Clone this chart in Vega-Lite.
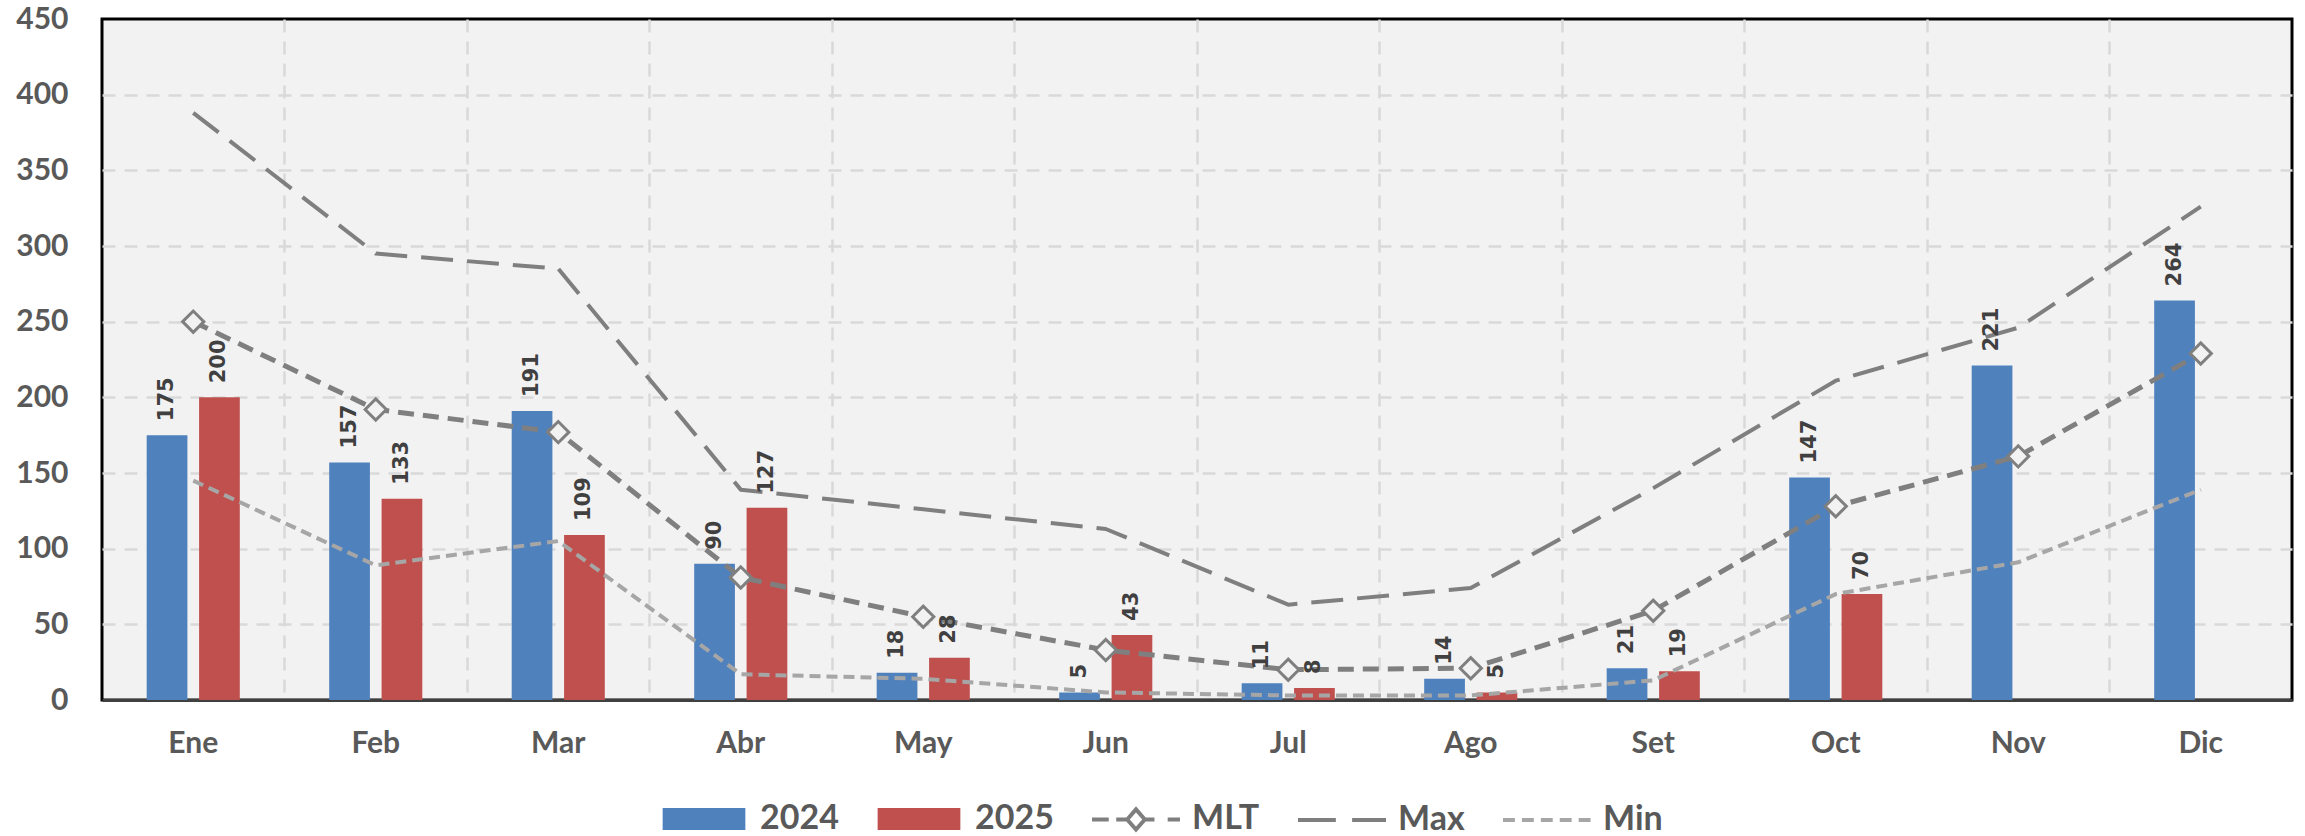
{
  "$schema": "https://vega.github.io/schema/vega-lite/v6.json",
  "width": 2190,
  "height": 681,
  "autosize": {"type": "none"},
  "padding": {"left": 102, "top": 19, "right": 13, "bottom": 136},
  "background": "#FFFFFF",
  "datasets": {
    "bars": [
      {"m": "Ene", "s": "2024", "v": 175}, {"m": "Ene", "s": "2025", "v": 200},
      {"m": "Feb", "s": "2024", "v": 157}, {"m": "Feb", "s": "2025", "v": 133},
      {"m": "Mar", "s": "2024", "v": 191}, {"m": "Mar", "s": "2025", "v": 109},
      {"m": "Abr", "s": "2024", "v": 90}, {"m": "Abr", "s": "2025", "v": 127},
      {"m": "May", "s": "2024", "v": 18}, {"m": "May", "s": "2025", "v": 28},
      {"m": "Jun", "s": "2024", "v": 5}, {"m": "Jun", "s": "2025", "v": 43},
      {"m": "Jul", "s": "2024", "v": 11}, {"m": "Jul", "s": "2025", "v": 8},
      {"m": "Ago", "s": "2024", "v": 14}, {"m": "Ago", "s": "2025", "v": 5},
      {"m": "Set", "s": "2024", "v": 21}, {"m": "Set", "s": "2025", "v": 19},
      {"m": "Oct", "s": "2024", "v": 147}, {"m": "Oct", "s": "2025", "v": 70},
      {"m": "Nov", "s": "2024", "v": 221},
      {"m": "Dic", "s": "2024", "v": 264}
    ],
    "lines": [
      {"m": "Ene", "s": "MLT", "v": 250}, {"m": "Feb", "s": "MLT", "v": 192}, {"m": "Mar", "s": "MLT", "v": 177},
      {"m": "Abr", "s": "MLT", "v": 81}, {"m": "May", "s": "MLT", "v": 55}, {"m": "Jun", "s": "MLT", "v": 33},
      {"m": "Jul", "s": "MLT", "v": 20}, {"m": "Ago", "s": "MLT", "v": 21}, {"m": "Set", "s": "MLT", "v": 59},
      {"m": "Oct", "s": "MLT", "v": 128}, {"m": "Nov", "s": "MLT", "v": 161}, {"m": "Dic", "s": "MLT", "v": 229},
      {"m": "Ene", "s": "Max", "v": 388}, {"m": "Feb", "s": "Max", "v": 295}, {"m": "Mar", "s": "Max", "v": 285},
      {"m": "Abr", "s": "Max", "v": 139}, {"m": "May", "s": "Max", "v": 126}, {"m": "Jun", "s": "Max", "v": 113},
      {"m": "Jul", "s": "Max", "v": 63}, {"m": "Ago", "s": "Max", "v": 74}, {"m": "Set", "s": "Max", "v": 140},
      {"m": "Oct", "s": "Max", "v": 211}, {"m": "Nov", "s": "Max", "v": 246}, {"m": "Dic", "s": "Max", "v": 326},
      {"m": "Ene", "s": "Min", "v": 145}, {"m": "Feb", "s": "Min", "v": 89}, {"m": "Mar", "s": "Min", "v": 105},
      {"m": "Abr", "s": "Min", "v": 17}, {"m": "May", "s": "Min", "v": 14}, {"m": "Jun", "s": "Min", "v": 5},
      {"m": "Jul", "s": "Min", "v": 3}, {"m": "Ago", "s": "Min", "v": 3}, {"m": "Set", "s": "Min", "v": 13},
      {"m": "Oct", "s": "Min", "v": 70}, {"m": "Nov", "s": "Min", "v": 91}, {"m": "Dic", "s": "Min", "v": 139}
    ]
  },
  "config": {
    "view": {"stroke": "#000000", "strokeWidth": 3, "fill": "#F2F2F2"},
    "axisY": {
      "grid": true, "gridColor": "#D9D9D9", "gridDash": [13, 9], "gridWidth": 2.5,
      "domain": false, "ticks": false, "tickSize": 0, "labelPadding": 34,
      "labelFont": "Lato", "labelFontSize": 30, "labelFontWeight": "bold", "labelColor": "#595959"
    },
    "axisX": {
      "grid": true, "gridColor": "#D9D9D9", "gridDash": [13, 9], "gridWidth": 2.5,
      "domain": true, "domainColor": "#404040", "domainWidth": 3,
      "ticks": false, "tickSize": 0, "labelPadding": 28, "labelAngle": 0,
      "labelFont": "Lato", "labelFontSize": 30, "labelFontWeight": "bold", "labelColor": "#595959"
    }
  },
  "layer": [
    {
      "data": {"name": "bars"},
      "mark": {"type": "bar"},
      "encoding": {
        "x": {"field": "m", "type": "nominal", "title": null,
              "sort": ["Ene","Feb","Mar","Abr","May","Jun","Jul","Ago","Set","Oct","Nov","Dic"],
              "scale": {"domain": ["Ene","Feb","Mar","Abr","May","Jun","Jul","Ago","Set","Oct","Nov","Dic"], "paddingInner": 0, "paddingOuter": 0},
              "axis": {"bandPosition": 0,
                       "gridOpacity": {"condition": {"test": "datum.value === 'Ene'", "value": 0}, "value": 1}}},
        "xOffset": {"field": "s", "type": "nominal", "scale": {"domain": ["2024", "2025"], "paddingInner": 0.223, "paddingOuter": 0.853}},
        "y": {"field": "v", "type": "quantitative", "title": null, "scale": {"domain": [0, 450], "nice": false},
              "axis": {"values": [0, 50, 100, 150, 200, 250, 300, 350, 400, 450],
                       "gridOpacity": {"condition": {"test": "datum.value === 450 || datum.value === 0", "value": 0}, "value": 1}}},
        "color": {
          "field": "s", "type": "nominal",
          "scale": {"domain": ["2024", "2025", "MLT", "Max", "Min"], "range": ["#4F81BD", "#C0504D", "#7F7F7F", "#7F7F7F", "#A6A6A6"]},
          "legend": {
            "orient": "none", "legendX": 556, "legendY": 754, "direction": "horizontal", "title": null,
            "symbolSize": 7744, "padding": 0, "columnPadding": 30, "labelOffset": 10,
            "labelFont": "Lato", "labelFontSize": 34, "labelFontWeight": "bold", "labelColor": "#595959", "labelBaseline": "middle",
            "encode": {
              "symbols": {
                "update": {
                  "shape": [
                    {"test": "datum.value === '2024' || datum.value === '2025'", "value": "M-0.94,-0.25H0.94V0.25H-0.94Z"},
                    {"test": "datum.value === 'MLT'", "value": "M-1,0H-0.62M-0.45,0H-0.2M0.2,0H0.42M0.72,0H1M-0.2,0L0,-0.23L0.2,0L0,0.23Z"},
                    {"test": "datum.value === 'Max'", "value": "M-1,0H-0.14M0.23,0H1"},
                    {"value": "M-1,0H-0.73M-0.57,0H-0.3M-0.14,0H0.13M0.29,0H0.56M0.72,0H0.99"}
                  ],
                  "fill": [
                    {"test": "datum.value === '2024'", "value": "#4F81BD"},
                    {"test": "datum.value === '2025'", "value": "#C0504D"},
                    {"value": "#FFFFFF"}
                  ],
                  "fillOpacity": [
                    {"test": "datum.value === '2024' || datum.value === '2025'", "value": 1},
                    {"value": 0}
                  ],
                  "stroke": [
                    {"test": "datum.value === '2024' || datum.value === '2025'", "value": "transparent"},
                    {"test": "datum.value === 'Min'", "value": "#A6A6A6"},
                    {"value": "#7F7F7F"}
                  ],
                  "strokeWidth": {"value": 4},
                  "opacity": {"value": 1}
                }
              }
            }
          }
        }
      }
    },
    {
      "data": {"name": "lines"},
      "transform": [{"filter": "datum.s === 'Min'"}],
      "mark": {"type": "line", "stroke": "#A6A6A6", "strokeWidth": 4, "strokeDash": [11, 6], "strokeJoin": "round"},
      "encoding": {
        "x": {"field": "m", "type": "nominal", "title": null, "sort": ["Ene","Feb","Mar","Abr","May","Jun","Jul","Ago","Set","Oct","Nov","Dic"]},
        "y": {"field": "v", "type": "quantitative", "title": null}
      }
    },
    {
      "data": {"name": "lines"},
      "transform": [{"filter": "datum.s === 'Max'"}],
      "mark": {"type": "line", "stroke": "#7F7F7F", "strokeWidth": 4, "strokeDash": [32, 14], "strokeJoin": "round"},
      "encoding": {
        "x": {"field": "m", "type": "nominal", "title": null, "sort": ["Ene","Feb","Mar","Abr","May","Jun","Jul","Ago","Set","Oct","Nov","Dic"]},
        "y": {"field": "v", "type": "quantitative", "title": null}
      }
    },
    {
      "data": {"name": "lines"},
      "transform": [{"filter": "datum.s === 'MLT'"}],
      "mark": {"type": "line", "stroke": "#7F7F7F", "strokeWidth": 5, "strokeDash": [16, 9], "strokeJoin": "round"},
      "encoding": {
        "x": {"field": "m", "type": "nominal", "title": null, "sort": ["Ene","Feb","Mar","Abr","May","Jun","Jul","Ago","Set","Oct","Nov","Dic"]},
        "y": {"field": "v", "type": "quantitative", "title": null}
      }
    },
    {
      "data": {"name": "lines"},
      "transform": [{"filter": "datum.s === 'MLT'"}],
      "mark": {"type": "point", "shape": "diamond", "size": 450, "filled": true, "fill": "#F2F2F2", "stroke": "#7F7F7F", "strokeWidth": 3, "opacity": 1},
      "encoding": {
        "x": {"field": "m", "type": "nominal", "title": null, "sort": ["Ene","Feb","Mar","Abr","May","Jun","Jul","Ago","Set","Oct","Nov","Dic"]},
        "y": {"field": "v", "type": "quantitative", "title": null}
      }
    },
    {
      "data": {"name": "bars"},
      "mark": {"type": "text", "angle": 270, "align": "left", "baseline": "middle", "dx": 14, "font": "DejaVu Sans", "fontSize": 21, "fontWeight": "bold", "fill": "#404040"},
      "encoding": {
        "x": {"field": "m", "type": "nominal", "title": null, "sort": ["Ene","Feb","Mar","Abr","May","Jun","Jul","Ago","Set","Oct","Nov","Dic"]},
        "xOffset": {"field": "s", "type": "nominal"},
        "y": {"field": "v", "type": "quantitative", "title": null},
        "text": {"field": "v", "type": "quantitative"}
      }
    }
  ]
}
